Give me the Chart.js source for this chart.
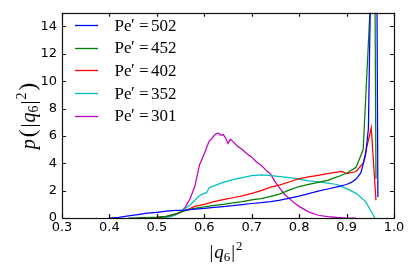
<!DOCTYPE html>
<html>
<head>
<meta charset="utf-8">
<script src="https://cdn.jsdelivr.net/npm/chart.js@4.4.1/dist/chart.umd.min.js"></script>
<style>
  html, body { margin: 0; padding: 0; background: #fff; }
  #wrap { width: 415px; height: 277px; }
</style>
</head>
<body>
<div id="wrap"><canvas id="chart" width="415" height="277"></canvas></div>
<script>
// tick positions
const X_TICKS = [0.3, 0.4, 0.5, 0.6, 0.7, 0.8, 0.9, 1.0];
const Y_TICKS = [0, 2, 4, 6, 8, 10, 12, 14];

// legend / series
const PE = [502, 452, 402, 352, 301];
const COLORS = ['#0000ff', '#008000', '#ff0000', '#00bfbf', '#bf00bf'];

// Pe' = 502
const Q_502 = [0.40, 0.42, 0.44, 0.46, 0.48, 0.50, 0.52, 0.54, 0.56, 0.58, 0.60, 0.62, 0.64, 0.66, 0.68, 0.70,
  0.72, 0.74, 0.76, 0.78, 0.80, 0.82, 0.84, 0.86, 0.88, 0.90, 0.91, 0.92, 0.93, 0.94, 0.946, 0.961, 0.966];
const P_502 = [0.0, 0.05, 0.15, 0.25, 0.35, 0.42, 0.5, 0.55, 0.58, 0.64, 0.7, 0.78, 0.84, 0.9, 0.98, 1.06,
  1.12, 1.2, 1.3, 1.45, 1.6, 1.78, 1.97, 2.12, 2.28, 2.45, 2.6, 2.85, 3.3, 4.6, 6.5, 40, 1.54];

// Pe' = 452
const Q_452 = [0.44, 0.48, 0.50, 0.52, 0.54, 0.56, 0.58, 0.60, 0.62, 0.64, 0.66, 0.68, 0.70, 0.72, 0.74, 0.76,
  0.78, 0.80, 0.82, 0.84, 0.86, 0.88, 0.90, 0.92, 0.935, 0.959, 0.962];
const P_452 = [0.0, 0.03, 0.06, 0.12, 0.3, 0.55, 0.7, 0.82, 0.92, 1.0, 1.1, 1.2, 1.32, 1.42, 1.58, 1.76,
  2.05, 2.3, 2.45, 2.6, 2.75, 3.0, 3.27, 3.7, 5.0, 22, 2.87];

// Pe' = 402
const Q_402 = [0.46, 0.50, 0.52, 0.54, 0.56, 0.58, 0.60, 0.62, 0.64, 0.66, 0.68, 0.70, 0.72, 0.74, 0.76, 0.78,
  0.80, 0.82, 0.84, 0.86, 0.88, 0.89, 0.90, 0.92, 0.935, 0.952, 0.962];
const P_402 = [0.0, 0.05, 0.12, 0.3, 0.55, 0.85, 1.0, 1.2, 1.35, 1.48, 1.62, 1.8, 2.0, 2.26, 2.42, 2.65,
  2.88, 3.0, 3.12, 3.25, 3.36, 3.4, 3.25, 3.4, 4.0, 6.6, 1.3];

// Pe' = 352
const Q_352 = [0.50, 0.52, 0.53, 0.54, 0.55, 0.56, 0.57, 0.58, 0.59, 0.60, 0.605, 0.61, 0.62, 0.64, 0.66, 0.68,
  0.70, 0.72, 0.74, 0.76, 0.78, 0.80, 0.82, 0.84, 0.86, 0.88, 0.90, 0.92, 0.94, 0.95, 0.96];
const P_352 = [0.0, 0.05, 0.1, 0.25, 0.45, 0.7, 0.95, 1.3, 1.65, 1.8, 1.85, 2.2, 2.35, 2.6, 2.8, 2.95,
  3.1, 3.15, 3.1, 3.02, 2.95, 2.85, 2.72, 2.65, 2.55, 2.45, 2.15, 1.8, 1.2, 0.6, 0.0];

// Pe' = 301
const Q_301 = [0.46, 0.50, 0.52, 0.53, 0.54, 0.55, 0.56, 0.57, 0.58, 0.59, 0.60, 0.61, 0.615, 0.62, 0.625, 0.63,
  0.635, 0.64, 0.645, 0.65, 0.655, 0.66, 0.67, 0.68, 0.69, 0.70, 0.71, 0.72, 0.73, 0.74, 0.75, 0.76,
  0.77, 0.78, 0.79, 0.80, 0.82, 0.84, 0.86, 0.88, 0.90, 0.92];
const P_301 = [0.0, 0.03, 0.1, 0.15, 0.25, 0.4, 0.8, 1.4, 2.3, 3.9, 4.7, 5.6, 5.75, 6.0, 6.15, 6.2,
  6.05, 6.1, 5.85, 5.45, 5.75, 5.6, 5.25, 5.0, 4.7, 4.45, 4.1, 3.85, 3.5, 3.2, 2.6, 2.15,
  1.7, 1.4, 1.1, 0.85, 0.45, 0.2, 0.1, 0.04, 0.0, 0.0];

const SERIES = [[Q_502, P_502], [Q_452, P_452], [Q_402, P_402], [Q_352, P_352], [Q_301, P_301]];

const SERIF = "'Liberation Serif', 'DejaVu Serif', serif";

function drawRuns(ctx, runs, x, y) {
  let cx = x;
  runs.forEach(r => {
    ctx.font = r.font;
    ctx.fillText(r.t, cx + (r.pre || 0), y + (r.dy || 0));
    cx += (r.pre || 0) + ctx.measureText(r.t).width + (r.post || 0);
  });
  return cx - x;
}

function runsWidth(ctx, runs) {
  let w = 0;
  runs.forEach(r => {
    ctx.font = r.font;
    w += (r.pre || 0) + ctx.measureText(r.t).width + (r.post || 0);
  });
  return w;
}

const it = (s) => `italic ${s}px ${SERIF}`;
const rm = (s) => `${s}px ${SERIF}`;

// frame, inward ticks, legend and axis titles
const decorations = {
  id: 'decorations',
  afterDatasetsDraw(chart) {
    const { ctx, chartArea: a, scales: { x, y } } = chart;
    ctx.save();
    ctx.strokeStyle = '#111';
    ctx.lineWidth = 1.2;
    ctx.beginPath();
    X_TICKS.forEach(v => {
      const px = Math.round(x.getPixelForValue(v)) + 0.5;
      ctx.moveTo(px, a.bottom); ctx.lineTo(px, a.bottom - 4);
      ctx.moveTo(px, a.top); ctx.lineTo(px, a.top + 4);
    });
    Y_TICKS.forEach(v => {
      const py = Math.round(y.getPixelForValue(v)) + 0.5;
      ctx.moveTo(a.left, py); ctx.lineTo(a.left + 4, py);
      ctx.moveTo(a.right, py); ctx.lineTo(a.right - 4, py);
    });
    ctx.stroke();
    ctx.strokeRect(Math.round(a.left) + 0.5, Math.round(a.top) + 0.5,
      Math.round(a.width), Math.round(a.height));

    // legend
    ctx.fillStyle = '#000';
    ctx.textBaseline = 'alphabetic';
    ctx.textAlign = 'left';
    ctx.lineWidth = 1.3;
    PE.forEach((pe, i) => {
      const yy = 25 + i * 22.7;
      ctx.strokeStyle = COLORS[i];
      ctx.beginPath();
      ctx.moveTo(75, Math.round(yy) + 0.5);
      ctx.lineTo(98, Math.round(yy) + 0.5);
      ctx.stroke();
      const base = yy + 5.5;
      ctx.font = rm(17);
      ctx.fillText('Pe', 114.5, base);
      ctx.fillText('\u2032', 131, base - 1);
      ctx.fillText('=', 139, base);
      ctx.fillText(String(pe), 151, base);
    });

    // x title |q6|^2
    const xRuns = [
      { t: '|', font: rm(19) },
      { t: 'q', font: it(19), pre: 1 },
      { t: '6', font: rm(13), dy: 3 },
      { t: '|', font: rm(19), pre: 1 },
      { t: '2', font: rm(13), dy: -8, pre: 1 },
    ];
    const xw = runsWidth(ctx, xRuns);
    drawRuns(ctx, xRuns, 226 - xw / 2, 258);

    // y title p(|q6|^2)
    const yRuns = [
      { t: 'p', font: it(20), post: 2 },
      { t: '(', font: rm(23) },
      { t: '|', font: rm(20), pre: 2 },
      { t: 'q', font: it(20), pre: 1 },
      { t: '6', font: rm(14), dy: 3 },
      { t: '|', font: rm(20), pre: 1 },
      { t: '2', font: rm(14), dy: -9, pre: 1 },
      { t: ')', font: rm(23), pre: 2 },
    ];
    const yw = runsWidth(ctx, yRuns);
    ctx.translate(35, 116);
    ctx.rotate(-Math.PI / 2);
    drawRuns(ctx, yRuns, -yw / 2, 0);
    ctx.restore();
  }
};

const datasets = SERIES.map(([q, p], i) => ({
  label: "Pe' = " + PE[i],
  data: q.map((v, j) => ({ x: v, y: p[j] })),
  borderColor: COLORS[i],
  backgroundColor: COLORS[i],
  borderWidth: 1.25,
  pointRadius: 0,
  tension: 0,
  fill: false,
}));

const tickFont = { family: "'DejaVu Sans', sans-serif", size: 13 };

new Chart(document.getElementById('chart'), {
  type: 'line',
  data: { datasets },
  options: {
    responsive: false,
    animation: false,
    events: [],
    layout: { padding: { left: 0, right: 21, top: 10, bottom: 0 } },
    plugins: { legend: { display: false }, tooltip: { enabled: false } },
    scales: {
      x: {
        type: 'linear',
        min: 0.3,
        max: 1.0,
        afterBuildTicks: (s) => { s.ticks = X_TICKS.map(v => ({ value: v })); },
        afterFit: (s) => { s.height = 59; },
        ticks: {
          color: '#000',
          font: tickFont,
          padding: 2,
          maxRotation: 0,
          callback: (v) => Number(v).toFixed(1),
        },
        grid: { display: false, drawTicks: false },
        border: { display: false },
      },
      y: {
        type: 'linear',
        min: 0,
        max: 15,
        afterBuildTicks: (s) => { s.ticks = Y_TICKS.map(v => ({ value: v })); },
        afterFit: (s) => { s.width = 62; },
        ticks: {
          color: '#000',
          font: tickFont,
          padding: 5,
          callback: (v) => String(v),
        },
        grid: { display: false, drawTicks: false },
        border: { display: false },
      },
    },
  },
  plugins: [decorations],
});
</script>
</body>
</html>
